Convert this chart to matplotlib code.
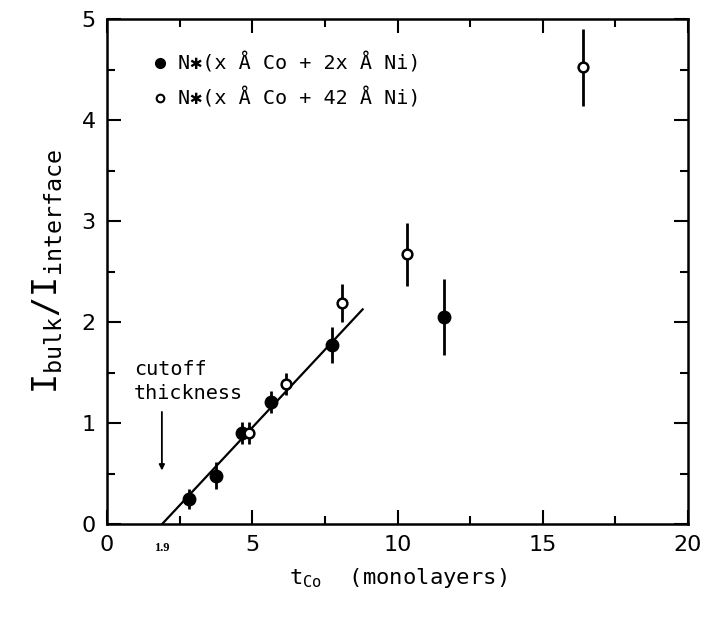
import matplotlib
matplotlib.use("Agg")
import matplotlib.pyplot as plt
import numpy as np

plt.rcParams['mathtext.fontset'] = 'custom'
plt.rcParams['mathtext.rm'] = 'DejaVu Sans Mono'
plt.rcParams['mathtext.it'] = 'DejaVu Sans Mono'

# Data: N*(x Å Co + 2x Å Ni)  -- filled
filled_x = [2.83, 3.75, 4.66, 5.66, 7.74, 11.6]
filled_y = [0.25, 0.48, 0.90, 1.21, 1.77, 2.05]
filled_err = [0.10, 0.13, 0.11, 0.11, 0.18, 0.38]

# Data: N*(x Å Co + 42 Å Ni)  -- open
open_x = [4.89, 6.17, 8.08, 10.31, 16.39]
open_y = [0.90, 1.39, 2.19, 2.67, 4.52]
open_err = [0.11, 0.11, 0.19, 0.31, 0.38]

# Linear fit
cutoff = 1.9
slope = 0.308
fit_xmax = 8.8

xticks = [0, 5, 10, 15, 20]
yticks = [0, 1, 2, 3, 4, 5]

fig = plt.figure(figsize=(7.01, 6.21), dpi=100)
ax = fig.add_axes([0.1526, 0.1562, 0.8289, 0.8132])

fx = np.array([cutoff, fit_xmax])
ax.plot(fx, slope * (fx - cutoff), color='black', lw=1.6, zorder=2)

ax.errorbar(filled_x, filled_y, yerr=filled_err, fmt='o', color='black',
            ms=9, elinewidth=2.0, capsize=0, zorder=3)
ax.errorbar(open_x, open_y, yerr=open_err, fmt='o', color='black',
            mfc='white', mec='black', mew=1.8, ms=7, elinewidth=2.0,
            capsize=0, zorder=3)

# legend (manual)
mono = ['DejaVu Sans Mono', 'DejaVu Sans']
ax.plot([0.091], [0.913], 'o', color='black', ms=7, transform=ax.transAxes, clip_on=False)
ax.plot([0.091], [0.843], 'o', mfc='white', mec='black', mew=1.5, ms=5.5,
        transform=ax.transAxes, clip_on=False)
ax.text(0.122, 0.913, 'N\u2731(x Å Co + 2x Å Ni)', transform=ax.transAxes,
        fontsize=14.5, family=mono, va='center', ha='left')
ax.text(0.122, 0.843, 'N\u2731(x Å Co + 42 Å Ni)', transform=ax.transAxes,
        fontsize=14.5, family=mono, va='center', ha='left')

# cutoff annotation
ax.text(0.92, 1.41, 'cutoff\nthickness', fontsize=14.5, family=mono,
        va='center', ha='left', linespacing=1.35)
ax.annotate('', xy=(1.89, 0.53), xytext=(1.89, 1.11),
            arrowprops=dict(arrowstyle='-|>', color='black', lw=1.3,
                            mutation_scale=8, shrinkA=0, shrinkB=0))
ax.text(cutoff, -0.24, '1.9', fontsize=9, family='Liberation Serif',
        fontweight='bold', ha='center', va='center')

ax.set_xlim(0, 20)
ax.set_ylim(0, 5)
ax.set_xticks(xticks)
ax.set_yticks(yticks)
ax.set_xticklabels([str(t) for t in xticks])
ax.set_yticklabels([str(t) for t in yticks])
ax.set_xticks(np.arange(0, 20.01, 2.5), minor=True)
ax.set_yticks(np.arange(0, 5.01, 0.5), minor=True)
ax.tick_params(which='both', direction='in', top=True, right=True, width=1.5)
ax.tick_params(which='major', length=10, labelsize=16, pad=8)
ax.tick_params(which='minor', length=6)
for sp in ax.spines.values():
    sp.set_linewidth(1.8)

ax.set_xlabel(r'$\mathregular{t_{Co}}$  (monolayers)', fontsize=16,
              family=mono, labelpad=8)
ax.set_ylabel(r'$\mathregular{I_{bulk}/I_{interface}}$', fontsize=24,
              family=mono, labelpad=12)

fig.savefig('out.png', dpi=100)
